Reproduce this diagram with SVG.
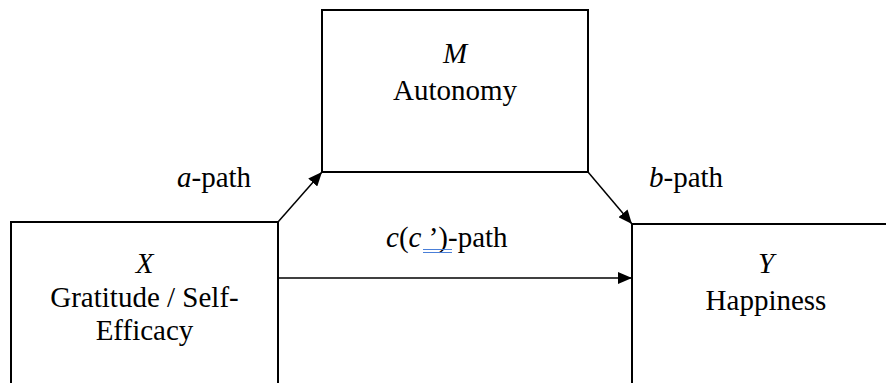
<svg xmlns="http://www.w3.org/2000/svg" width="886" height="383" viewBox="0 0 886 383">
<style>
.t{font-family:"Liberation Serif","Times New Roman",serif;font-size:29px;fill:#000;text-anchor:middle}
.l{font-family:"Liberation Serif","Times New Roman",serif;font-size:29px;fill:#000}
.i{font-style:italic}
.box{fill:#fff;stroke:#000;stroke-width:2}
.c{stroke:#000;stroke-width:1.5;fill:none}
</style>
<defs>
<marker id="ah" viewBox="0 0 14 12" refX="14" refY="6" markerWidth="14" markerHeight="12" markerUnits="userSpaceOnUse" orient="auto">
<path d="M0,0 L14,6 L0,12 Z" fill="#000"/>
</marker>
</defs>
<rect width="886" height="383" fill="#fff"/>
<g id="connectors">
<line class="c" x1="278" y1="222" x2="322" y2="172" marker-end="url(#ah)"/>
<line class="c" x1="588" y1="172" x2="632" y2="224" marker-end="url(#ah)"/>
<line class="c" x1="278" y1="278" x2="632" y2="278" marker-end="url(#ah)"/>
</g>
<g id="node-M">
<rect class="box" x="322" y="10" width="266" height="162"/>
<text class="t i" x="455" y="63">M</text>
<text class="t" x="455" y="100">Autonomy</text>
</g>
<g id="node-X">
<rect class="box" x="11" y="222" width="267" height="180"/>
<text class="t i" x="144.5" y="273">X</text>
<text class="t" x="144.5" y="307">Gratitude / Self-</text>
<text class="t" x="144.5" y="340">Efficacy</text>
</g>
<g id="node-Y">
<rect class="box" x="632" y="224" width="280" height="180"/>
<text class="t i" x="766" y="273">Y</text>
<text class="t" x="766" y="310">Happiness</text>
</g>
<g id="labels">
<text class="l" x="177" y="187"><tspan class="i">a</tspan>-path</text>
<text class="l" x="649" y="187"><tspan class="i">b</tspan>-path</text>
<text class="l" x="386" y="247"><tspan class="i">c</tspan>(<tspan class="i">c</tspan> ’)-path</text>
<line x1="423" y1="249.5" x2="452" y2="249.5" stroke="#4a7fd8" stroke-width="1"/>
<line x1="423" y1="252.5" x2="452" y2="252.5" stroke="#4a7fd8" stroke-width="1"/>
</g>
</svg>
